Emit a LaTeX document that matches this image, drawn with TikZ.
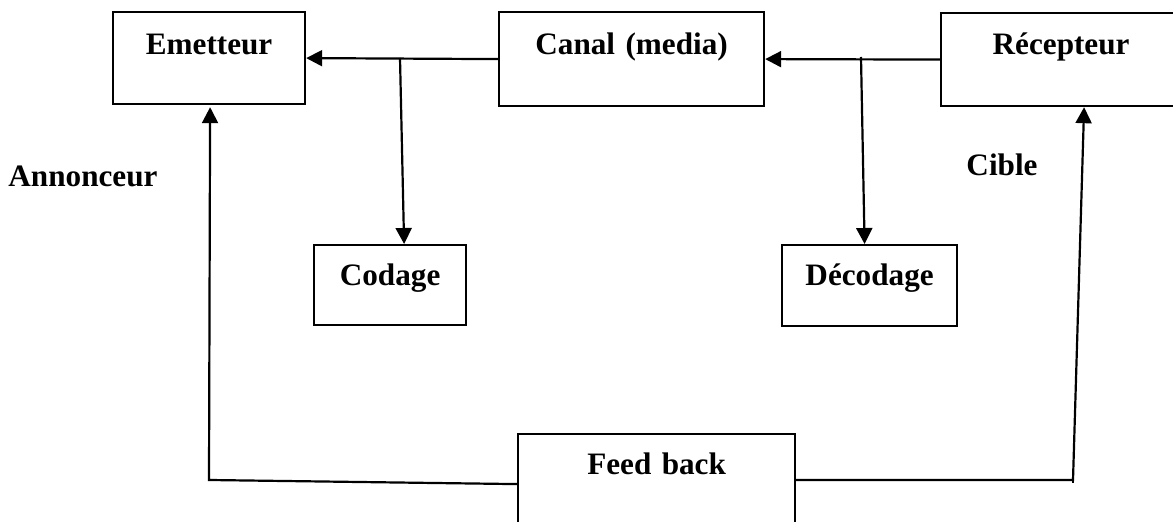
\documentclass[tikz,border=0pt]{standalone}
\usepackage{fontspec}
\setmainfont{Liberation Serif}
\usetikzlibrary{arrows.meta,calc}
\begin{document}
\begin{tikzpicture}[x=0.5pt,y=-0.5pt,
  box/.style={draw,line width=1.1pt,inner sep=0pt,align=center,anchor=north west,
    font=\fontsize{15.6}{18}\selectfont\bfseries},
  lbl/.style={inner sep=0pt,anchor=base,font=\fontsize{15.6}{18}\selectfont\bfseries},
  conn/.style={line width=1.1pt},
  arr/.style={line width=1.1pt,-{Triangle[length=8pt,width=8pt]}}]
\useasboundingbox (0,0) rectangle (1173,522);
\clip (0,0) rectangle (1173,522);
% boxes: text width = W/2 pt, text height = h/2 pt, text depth = (H-h)/2 pt
\node[box,text width=96pt,text height=21pt,text depth=25pt] (emet) at (112,11) {Emetteur};
\node[box,text width=132.5pt,text height=21pt,text depth=26pt] (canal) at (498,11) {Canal (media)};
\node[box,text width=120pt,text height=20.5pt,text depth=26pt] (rec) at (940,12) {Récepteur};
\node[box,text width=76pt,text height=20pt,text depth=20pt] (cod) at (313,244) {Codage};
\node[box,text width=87.5pt,text height=20pt,text depth=20.5pt] (dec) at (781,244) {Décodage};
\node[box,text width=138.5pt,text height=20pt,text depth=30pt] (fb) at (517,433) {Feed back};
% free labels
\node[lbl] (ann) at (83,187) {Annonceur};
\node[lbl] (cible) at (1002,176) {Cible};
% connectors
\coordinate (j1) at (400,58);
\coordinate (j2) at (861,57);
\coordinate (cl) at (209,480);
\coordinate (cr) at (1073,480);
\draw[arr] (canal.west) -- (emet.east);
\draw[arr] (j1) -- ($(cod.north)+(14,0)$);
\draw[arr] (rec.west) -- (canal.east);
\draw[arr] (j2) -- ($(dec.north)+(-5,0)$);
\draw[arr] (fb.west) -- (cl) -- ($(emet.south)+(1,2)$);
\draw[arr] (fb.east |- cr) -- (cr) -- ($(rec.south)+(23,0)$);
\draw[conn] (cr) -- ++(0,3);
\end{tikzpicture}
\end{document}
